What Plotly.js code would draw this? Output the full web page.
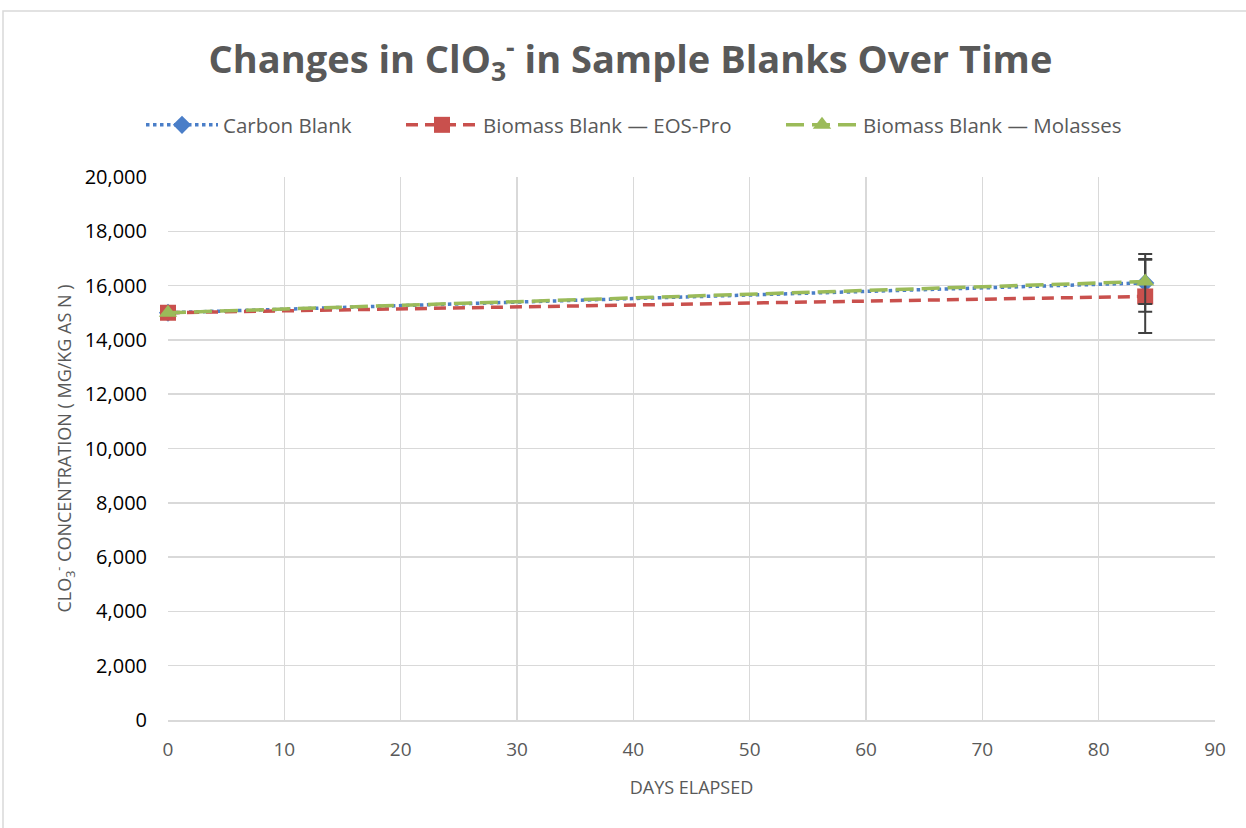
<!DOCTYPE html>
<html>
<head>
<meta charset="utf-8">
<script src="https://cdn.plot.ly/plotly-3.0.1.min.js"></script>
<style>
html,body{margin:0;padding:0;background:#fff;}
#chart{width:1246px;height:828px;}
</style>
</head>
<body>
<div id="chart"></div>
<script>
const days = [0, 84];
const carbonBlank = [15000, 16100];
const eosProBlank = [15000, 15600];
const molassesBlank = [15000, 16150];
const carbonErr = [null, 1060];
const eosProErr = [null, 1350];
const molassesErr = [null, 830];
const seriesNames = ["Carbon Blank", "Biomass Blank \u2014 EOS-Pro", "Biomass Blank \u2014 Molasses"];

const FONT = "Open Sans, Noto Sans, sans-serif";
const errStyle = {type: "data", visible: true, color: "#404040", thickness: 2, width: 7};

const traces = [
  {
    x: days, y: carbonBlank, name: seriesNames[0], legend: "legend", mode: "lines+markers", cliponaxis: false,
    line: {color: "#4A7EC8", width: 3.5, dash: "dot"},
    marker: {symbol: "diamond", size: 14, color: "#4A7EC8"},
    error_y: Object.assign({array: carbonErr}, errStyle)
  },
  {
    x: days, y: eosProBlank, name: seriesNames[1], legend: "legend2", mode: "lines+markers", cliponaxis: false,
    line: {color: "#C9504D", width: 3.5, dash: "12px,7px"},
    marker: {symbol: "square", size: 16, color: "#C9504D"},
    error_y: Object.assign({array: eosProErr}, errStyle)
  },
  {
    x: days, y: molassesBlank, name: seriesNames[2], legend: "legend3", mode: "lines+markers", cliponaxis: false,
    line: {color: "#9BBB59", width: 3.5, dash: "18px,8px"},
    marker: {symbol: "triangle-up", size: 16, color: "#9BBB59"},
    error_y: Object.assign({array: molassesErr}, errStyle)
  }
];

const L = 168, R = 31, T = 177, B = 108, W = 1246, H = 828;
const pw = W - L - R, ph = H - T - B;

function legendAt(px) {
  return {
    orientation: "h", x: (px - L) / pw, xanchor: "left", y: 1 + (177 - 125) / ph, yanchor: "middle",
    font: {family: FONT, size: 20.5, color: "#595959"},
    itemwidth: 72, tracegroupgap: 0, bgcolor: "rgba(0,0,0,0)", borderwidth: 0
  };
}

const layout = {
  width: W, height: H,
  margin: {l: L, r: R, t: T, b: B},
  paper_bgcolor: "#ffffff", plot_bgcolor: "#ffffff",
  font: {family: FONT, color: "#595959"},
  title: {
    text: "<b>Changes in ClO<sub>3</sub><sup>-</sup> in Sample Blanks Over Time</b>",
    font: {family: FONT, size: 38, color: "#595959"},
    x: 0.506, xanchor: "center", y: 1 - 60 / H, yanchor: "middle"
  },
  showlegend: true,
  legend: legendAt(141),
  legend2: legendAt(401),
  legend3: legendAt(781),
  xaxis: {
    range: [0, 90], dtick: 10, tick0: 0,
    showgrid: true, gridcolor: "#d9d9d9", gridwidth: 1.5,
    zeroline: false, showline: true, linecolor: "#d9d9d9", linewidth: 1.5,
    ticks: "", ticklabelstandoff: 12,
    tickfont: {family: FONT, size: 19, color: "#595959"},
    title: {text: "DAYS ELAPSED", font: {family: FONT, size: 18, color: "#595959"}, standoff: 20}
  },
  yaxis: {
    range: [0, 20000], dtick: 2000, tick0: 0, tickformat: ",",
    showgrid: true, gridcolor: "#d9d9d9", gridwidth: 1.5,
    zeroline: false, showline: false,
    ticks: "", ticklabelstandoff: 20,
    tickfont: {family: FONT, size: 20, color: "#000000"},
    title: {text: "CLO<sub>3</sub><sup>-</sup> CONCENTRATION ( MG/KG AS N )", font: {family: FONT, size: 18, color: "#595959"}, standoff: 8}
  },
  shapes: [{
    type: "rect", xref: "paper", yref: "paper",
    x0: (3 - L) / pw, x1: (W + 5 - L) / pw,
    y0: -(H + 5 - T - ph) / ph, y1: 1 + (T - 11) / ph,
    line: {color: "#d9d9d9", width: 1.5}, fillcolor: "rgba(0,0,0,0)", layer: "below"
  }]
};

Plotly.newPlot("chart", traces, layout, {displayModeBar: false, staticPlot: true});
</script>
</body>
</html>
